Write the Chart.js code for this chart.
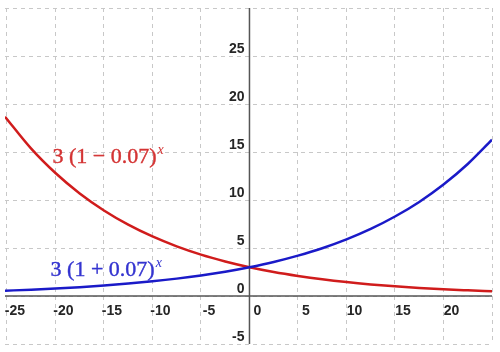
<!DOCTYPE html>
<html>
<head>
<meta charset="utf-8">
<script src="https://cdn.jsdelivr.net/npm/chart.js@4"></script>
<style>
  html, body { margin: 0; padding: 0; background: #fff; }
</style>
</head>
<body>
<canvas id="chart" width="500" height="352"></canvas>
<script>
// values
const xValues = [-25.2, -22.5, -20, -17.5, -15, -12.5, -10, -7.5, -5, -2.5, 0,
                 2.5, 5, 7.5, 10, 12.5, 15, 17.5, 20, 22.5, 25]
const growth = [0.55, 0.66, 0.78, 0.92, 1.09, 1.29, 1.53, 1.81, 2.14, 2.53, 3,
                3.55, 4.21, 4.98, 5.90, 6.99, 8.28, 9.80, 11.61, 13.75, 16.28]
const decay = [18.68, 15.35, 12.81, 10.68, 8.91, 7.43, 6.20, 5.17, 4.31, 3.60, 3,
               2.50, 2.09, 1.74, 1.45, 1.21, 1.01, 0.84, 0.70, 0.59, 0.49]

const xGrid = [-25, -20, -15, -10, -5, 0, 5, 10, 15, 20, 25]
const yGrid = [-5, 0, 5, 10, 15, 20, 25, 30]
const xTickLabels = [-25, -20, -15, -10, -5, 0, 5, 10, 15, 20]
const yTickLabels = [-5, 0, 5, 10, 15, 20, 25]

const curveNames = ['3 (1 + 0.07)', '3 (1 \u2212 0.07)']
const exponent = 'x'

const blue = '#1a1ac8'
const red = '#d01c1c'

const toPoints = ys => xValues.map((x, i) => ({ x: x, y: ys[i] }))

// axes through the origin, with GeoGebra-style tick labels
const axesPlugin = {
    id: 'axes',
    beforeDatasetsDraw(chart) {
        const { ctx, chartArea, scales } = chart
        const x0 = scales.x.getPixelForValue(0)
        const y0 = scales.y.getPixelForValue(0)
        ctx.save()
        ctx.strokeStyle = '#555'
        ctx.lineWidth = 1.5
        ctx.beginPath()
        ctx.moveTo(chartArea.left, y0)
        ctx.lineTo(chartArea.right, y0)
        ctx.moveTo(x0, chartArea.top)
        ctx.lineTo(x0, chartArea.bottom)
        ctx.stroke()

        ctx.fillStyle = '#262626'
        ctx.font = 'bold 14px "Liberation Sans", Arial, sans-serif'
        ctx.textAlign = 'center'
        ctx.textBaseline = 'middle'
        xTickLabels.forEach(v => {
            ctx.fillText(String(v), scales.x.getPixelForValue(v) + 8, y0 + 15)
        })
        ctx.textAlign = 'right'
        yTickLabels.forEach(v => {
            ctx.fillText(String(v), x0 - 5, scales.y.getPixelForValue(v) - 7)
        })
        ctx.restore()
    },
    afterDatasetsDraw(chart) {
        const { ctx, scales } = chart
        const spots = [
            { x: -20.5, y: 2.1, color: '#3434d0' },
            { x: -20.3, y: 13.9, color: '#d43434' }
        ]
        ctx.save()
        ctx.textBaseline = 'alphabetic'
        ctx.textAlign = 'left'
        curveNames.forEach((name, i) => {
            const s = spots[i]
            const px = scales.x.getPixelForValue(s.x)
            const py = scales.y.getPixelForValue(s.y)
            ctx.fillStyle = s.color
            ctx.strokeStyle = s.color
            ctx.lineWidth = 0.4
            ctx.font = '22px "Liberation Serif", "Times New Roman", serif'
            ctx.fillText(name, px, py)
            ctx.strokeText(name, px, py)
            const w = ctx.measureText(name).width
            ctx.font = 'italic 14px "Liberation Serif", "Times New Roman", serif'
            ctx.fillText(exponent, px + w + 1, py - 9)
        })
        ctx.restore()
    }
}

const gridOpts = {
    color: '#c8c8c8',
    lineWidth: 1,
    drawTicks: false
}

new Chart(document.getElementById('chart'), {
    type: 'line',
    data: {
        datasets: [{
            label: curveNames[0],
            data: toPoints(growth),
            borderColor: blue,
            borderWidth: 2.5,
            pointRadius: 0,
            cubicInterpolationMode: 'monotone'
        }, {
            label: curveNames[1],
            data: toPoints(decay),
            borderColor: red,
            borderWidth: 2.5,
            pointRadius: 0,
            cubicInterpolationMode: 'monotone'
        }]
    },
    options: {
        responsive: false,
        animation: false,
        devicePixelRatio: 1,
        layout: { padding: { top: 8, left: 5, right: 8, bottom: 8 } },
        plugins: {
            legend: { display: false },
            tooltip: { enabled: false }
        },
        scales: {
            x: {
                type: 'linear',
                min: -25.2,
                max: 25,
                afterBuildTicks: s => { s.ticks = xGrid.map(v => ({ value: v })) },
                ticks: { display: false },
                grid: gridOpts,
                border: { display: false, dash: [4, 4] }
            },
            y: {
                type: 'linear',
                min: -5,
                max: 30,
                afterBuildTicks: s => { s.ticks = yGrid.map(v => ({ value: v })) },
                ticks: { display: false },
                grid: gridOpts,
                border: { display: false, dash: [4, 4] }
            }
        }
    },
    plugins: [axesPlugin]
})
</script>
</body>
</html>
